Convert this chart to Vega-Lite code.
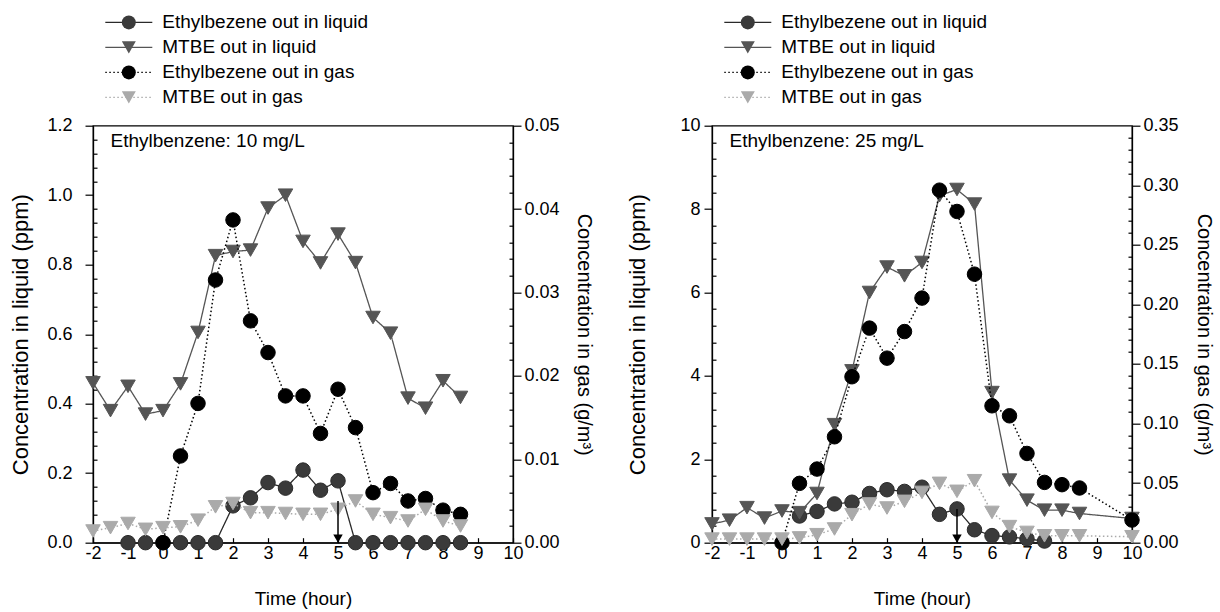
{
  "$schema": "https://vega.github.io/schema/vega-lite/v6.json",
  "background": "white",
  "padding": {"left": 9, "top": 9.7, "right": 5, "bottom": 2},
  "spacing": 32,
  "datasets": {
    "p10": [
      {"t": -1, "s": "Ethylbezene out in liquid", "c": 0}, {"t": -0.5, "s": "Ethylbezene out in liquid", "c": 0}, {"t": 0, "s": "Ethylbezene out in liquid", "c": 0}, {"t": 0.5, "s": "Ethylbezene out in liquid", "c": 0}, {"t": 1, "s": "Ethylbezene out in liquid", "c": 0}, {"t": 1.5, "s": "Ethylbezene out in liquid", "c": 0}, {"t": 2, "s": "Ethylbezene out in liquid", "c": 0.106}, {"t": 2.5, "s": "Ethylbezene out in liquid", "c": 0.129}, {"t": 3, "s": "Ethylbezene out in liquid", "c": 0.173}, {"t": 3.5, "s": "Ethylbezene out in liquid", "c": 0.157}, {"t": 4, "s": "Ethylbezene out in liquid", "c": 0.209}, {"t": 4.5, "s": "Ethylbezene out in liquid", "c": 0.151}, {"t": 5, "s": "Ethylbezene out in liquid", "c": 0.178}, {"t": 5.5, "s": "Ethylbezene out in liquid", "c": 0}, {"t": 6, "s": "Ethylbezene out in liquid", "c": 0}, {"t": 6.5, "s": "Ethylbezene out in liquid", "c": 0}, {"t": 7, "s": "Ethylbezene out in liquid", "c": 0}, {"t": 7.5, "s": "Ethylbezene out in liquid", "c": 0}, {"t": 8, "s": "Ethylbezene out in liquid", "c": 0}, {"t": 8.5, "s": "Ethylbezene out in liquid", "c": 0},
      {"t": -2, "s": "MTBE out in liquid", "c": 0.46}, {"t": -1.5, "s": "MTBE out in liquid", "c": 0.38}, {"t": -1, "s": "MTBE out in liquid", "c": 0.45}, {"t": -0.5, "s": "MTBE out in liquid", "c": 0.37}, {"t": 0, "s": "MTBE out in liquid", "c": 0.38}, {"t": 0.5, "s": "MTBE out in liquid", "c": 0.457}, {"t": 1, "s": "MTBE out in liquid", "c": 0.605}, {"t": 1.5, "s": "MTBE out in liquid", "c": 0.826}, {"t": 2, "s": "MTBE out in liquid", "c": 0.838}, {"t": 2.5, "s": "MTBE out in liquid", "c": 0.842}, {"t": 3, "s": "MTBE out in liquid", "c": 0.963}, {"t": 3.5, "s": "MTBE out in liquid", "c": 1.0}, {"t": 4, "s": "MTBE out in liquid", "c": 0.867}, {"t": 4.5, "s": "MTBE out in liquid", "c": 0.805}, {"t": 5, "s": "MTBE out in liquid", "c": 0.888}, {"t": 5.5, "s": "MTBE out in liquid", "c": 0.806}, {"t": 6, "s": "MTBE out in liquid", "c": 0.648}, {"t": 6.5, "s": "MTBE out in liquid", "c": 0.603}, {"t": 7, "s": "MTBE out in liquid", "c": 0.416}, {"t": 7.5, "s": "MTBE out in liquid", "c": 0.387}, {"t": 8, "s": "MTBE out in liquid", "c": 0.466}, {"t": 8.5, "s": "MTBE out in liquid", "c": 0.418},
      {"t": 0, "s": "Ethylbezene out in gas", "c": 0}, {"t": 0.5, "s": "Ethylbezene out in gas", "c": 0.0104}, {"t": 1, "s": "Ethylbezene out in gas", "c": 0.0167}, {"t": 1.5, "s": "Ethylbezene out in gas", "c": 0.0315}, {"t": 2, "s": "Ethylbezene out in gas", "c": 0.0387}, {"t": 2.5, "s": "Ethylbezene out in gas", "c": 0.0266}, {"t": 3, "s": "Ethylbezene out in gas", "c": 0.0228}, {"t": 3.5, "s": "Ethylbezene out in gas", "c": 0.0176}, {"t": 4, "s": "Ethylbezene out in gas", "c": 0.0176}, {"t": 4.5, "s": "Ethylbezene out in gas", "c": 0.0131}, {"t": 5, "s": "Ethylbezene out in gas", "c": 0.0184}, {"t": 5.5, "s": "Ethylbezene out in gas", "c": 0.0138}, {"t": 6, "s": "Ethylbezene out in gas", "c": 0.006}, {"t": 6.5, "s": "Ethylbezene out in gas", "c": 0.0071}, {"t": 7, "s": "Ethylbezene out in gas", "c": 0.005}, {"t": 7.5, "s": "Ethylbezene out in gas", "c": 0.0053}, {"t": 8, "s": "Ethylbezene out in gas", "c": 0.0039}, {"t": 8.5, "s": "Ethylbezene out in gas", "c": 0.0034},
      {"t": -2, "s": "MTBE out in gas", "c": 0.0014}, {"t": -1.5, "s": "MTBE out in gas", "c": 0.0018}, {"t": -1, "s": "MTBE out in gas", "c": 0.0023}, {"t": -0.5, "s": "MTBE out in gas", "c": 0.0016}, {"t": 0, "s": "MTBE out in gas", "c": 0.0018}, {"t": 0.5, "s": "MTBE out in gas", "c": 0.0019}, {"t": 1, "s": "MTBE out in gas", "c": 0.0027}, {"t": 1.5, "s": "MTBE out in gas", "c": 0.0043}, {"t": 2, "s": "MTBE out in gas", "c": 0.0047}, {"t": 2.5, "s": "MTBE out in gas", "c": 0.0036}, {"t": 3, "s": "MTBE out in gas", "c": 0.0036}, {"t": 3.5, "s": "MTBE out in gas", "c": 0.0035}, {"t": 4, "s": "MTBE out in gas", "c": 0.0034}, {"t": 4.5, "s": "MTBE out in gas", "c": 0.0034}, {"t": 5, "s": "MTBE out in gas", "c": 0.004}, {"t": 5.5, "s": "MTBE out in gas", "c": 0.005}, {"t": 6, "s": "MTBE out in gas", "c": 0.0034}, {"t": 6.5, "s": "MTBE out in gas", "c": 0.003}, {"t": 7, "s": "MTBE out in gas", "c": 0.0026}, {"t": 7.5, "s": "MTBE out in gas", "c": 0.004}, {"t": 8, "s": "MTBE out in gas", "c": 0.0026}, {"t": 8.5, "s": "MTBE out in gas", "c": 0.002}
    ],
    "p25": [
      {"t": 0.5, "s": "Ethylbezene out in liquid", "c": 0.64}, {"t": 1, "s": "Ethylbezene out in liquid", "c": 0.75}, {"t": 1.5, "s": "Ethylbezene out in liquid", "c": 0.93}, {"t": 2, "s": "Ethylbezene out in liquid", "c": 0.97}, {"t": 2.5, "s": "Ethylbezene out in liquid", "c": 1.18}, {"t": 3, "s": "Ethylbezene out in liquid", "c": 1.27}, {"t": 3.5, "s": "Ethylbezene out in liquid", "c": 1.23}, {"t": 4, "s": "Ethylbezene out in liquid", "c": 1.33}, {"t": 4.5, "s": "Ethylbezene out in liquid", "c": 0.68}, {"t": 5, "s": "Ethylbezene out in liquid", "c": 0.81}, {"t": 5.5, "s": "Ethylbezene out in liquid", "c": 0.31}, {"t": 6, "s": "Ethylbezene out in liquid", "c": 0.17}, {"t": 6.5, "s": "Ethylbezene out in liquid", "c": 0.14}, {"t": 7, "s": "Ethylbezene out in liquid", "c": 0.09}, {"t": 7.5, "s": "Ethylbezene out in liquid", "c": 0.04},
      {"t": -2, "s": "MTBE out in liquid", "c": 0.45}, {"t": -1.5, "s": "MTBE out in liquid", "c": 0.54}, {"t": -1, "s": "MTBE out in liquid", "c": 0.84}, {"t": -0.5, "s": "MTBE out in liquid", "c": 0.59}, {"t": 0, "s": "MTBE out in liquid", "c": 0.76}, {"t": 0.5, "s": "MTBE out in liquid", "c": 0.72}, {"t": 1, "s": "MTBE out in liquid", "c": 1.18}, {"t": 1.5, "s": "MTBE out in liquid", "c": 2.83}, {"t": 2, "s": "MTBE out in liquid", "c": 4.12}, {"t": 2.5, "s": "MTBE out in liquid", "c": 6.0}, {"t": 3, "s": "MTBE out in liquid", "c": 6.61}, {"t": 3.5, "s": "MTBE out in liquid", "c": 6.4}, {"t": 4, "s": "MTBE out in liquid", "c": 6.72}, {"t": 4.5, "s": "MTBE out in liquid", "c": 8.32}, {"t": 5, "s": "MTBE out in liquid", "c": 8.47}, {"t": 5.5, "s": "MTBE out in liquid", "c": 8.12}, {"t": 6, "s": "MTBE out in liquid", "c": 3.6}, {"t": 6.5, "s": "MTBE out in liquid", "c": 1.5}, {"t": 7, "s": "MTBE out in liquid", "c": 1.02}, {"t": 7.5, "s": "MTBE out in liquid", "c": 0.78}, {"t": 8, "s": "MTBE out in liquid", "c": 0.78}, {"t": 8.5, "s": "MTBE out in liquid", "c": 0.7}, {"t": 10, "s": "MTBE out in liquid", "c": 0.58},
      {"t": 0, "s": "Ethylbezene out in gas", "c": 0}, {"t": 0.5, "s": "Ethylbezene out in gas", "c": 0.0498}, {"t": 1, "s": "Ethylbezene out in gas", "c": 0.0618}, {"t": 1.5, "s": "Ethylbezene out in gas", "c": 0.0889}, {"t": 2, "s": "Ethylbezene out in gas", "c": 0.1393}, {"t": 2.5, "s": "Ethylbezene out in gas", "c": 0.1801}, {"t": 3, "s": "Ethylbezene out in gas", "c": 0.1549}, {"t": 3.5, "s": "Ethylbezene out in gas", "c": 0.1772}, {"t": 4, "s": "Ethylbezene out in gas", "c": 0.2053}, {"t": 4.5, "s": "Ethylbezene out in gas", "c": 0.2959}, {"t": 5, "s": "Ethylbezene out in gas", "c": 0.278}, {"t": 5.5, "s": "Ethylbezene out in gas", "c": 0.2254}, {"t": 6, "s": "Ethylbezene out in gas", "c": 0.1149}, {"t": 6.5, "s": "Ethylbezene out in gas", "c": 0.1065}, {"t": 7, "s": "Ethylbezene out in gas", "c": 0.0749}, {"t": 7.5, "s": "Ethylbezene out in gas", "c": 0.0506}, {"t": 8, "s": "Ethylbezene out in gas", "c": 0.0487}, {"t": 8.5, "s": "Ethylbezene out in gas", "c": 0.0459}, {"t": 10, "s": "Ethylbezene out in gas", "c": 0.019},
      {"t": -2, "s": "MTBE out in gas", "c": 0.003}, {"t": -1.5, "s": "MTBE out in gas", "c": 0.003}, {"t": -1, "s": "MTBE out in gas", "c": 0.003}, {"t": -0.5, "s": "MTBE out in gas", "c": 0.003}, {"t": 0, "s": "MTBE out in gas", "c": 0.003}, {"t": 0.5, "s": "MTBE out in gas", "c": 0.004}, {"t": 1, "s": "MTBE out in gas", "c": 0.0067}, {"t": 1.5, "s": "MTBE out in gas", "c": 0.0115}, {"t": 2, "s": "MTBE out in gas", "c": 0.0235}, {"t": 2.5, "s": "MTBE out in gas", "c": 0.0325}, {"t": 3, "s": "MTBE out in gas", "c": 0.0291}, {"t": 3.5, "s": "MTBE out in gas", "c": 0.0347}, {"t": 4, "s": "MTBE out in gas", "c": 0.0422}, {"t": 4.5, "s": "MTBE out in gas", "c": 0.0498}, {"t": 5, "s": "MTBE out in gas", "c": 0.0431}, {"t": 5.5, "s": "MTBE out in gas", "c": 0.052}, {"t": 6, "s": "MTBE out in gas", "c": 0.0254}, {"t": 6.5, "s": "MTBE out in gas", "c": 0.0135}, {"t": 7, "s": "MTBE out in gas", "c": 0.0086}, {"t": 7.5, "s": "MTBE out in gas", "c": 0.0058}, {"t": 8, "s": "MTBE out in gas", "c": 0.0058}, {"t": 8.5, "s": "MTBE out in gas", "c": 0.0058}, {"t": 10, "s": "MTBE out in gas", "c": 0.005}
    ],
    "a10": [{"t": 5, "top": 0.12, "tip": 0}],
    "a25": [{"t": 5, "top": 0.81, "tip": 0}]
  },
  "hconcat": [
    {
      "width": 420, "height": 417,
      "data": {"name": "p10"},
      "encoding": {
        "x": {"field": "t", "type": "quantitative", "scale": {"domain": [-2, 10], "nice": false, "zero": false},
          "axis": {"title": "Time (hour)", "values": [-2, -1, 0, 1, 2, 3, 4, 5, 6, 7, 8, 9, 10], "labelExpr": "'' + datum.value", "tickSize": -5, "labelPadding": 7, "titlePadding": 27}}
      },
      "layer": [
        {
          "transform": [{"filter": {"field": "s", "oneOf": ["Ethylbezene out in liquid", "MTBE out in liquid"]}}],
          "encoding": {
            "y": {"field": "c", "type": "quantitative", "scale": {"domain": [0, 1.2], "nice": false},
              "axis": {"orient": "left", "title": "Concentration in liquid (ppm)", "titleFontSize": 22, "values": [0, 0.04, 0.08, 0.12, 0.16, 0.2, 0.24, 0.28, 0.32, 0.36, 0.4, 0.44, 0.48, 0.52, 0.56, 0.6, 0.64, 0.68, 0.72, 0.76, 0.8, 0.84, 0.88, 0.92, 0.96, 1.0, 1.04, 1.08, 1.12, 1.16, 1.2],
                "labelExpr": "abs(datum.value*5 - round(datum.value*5)) < 0.001 ? format(datum.value, '.1f') : ''",
                "tickSize": {"condition": {"test": "abs(datum.value*5 - round(datum.value*5)) < 0.001", "value": 8}, "value": -4},
                "labelPadding": 13, "titlePadding": 14}}
          },
          "layer": [
            {"mark": {"type": "line", "strokeWidth": 1.3},
              "encoding": {
                "stroke": {"field": "s", "type": "nominal", "scale": {"domain": ["Ethylbezene out in liquid", "MTBE out in liquid", "Ethylbezene out in gas", "MTBE out in gas"], "range": ["#2a2a2a", "#555555", "#000000", "#aaaaaa"]},
                  "legend": {"orient": "none", "legendX": 11.3, "legendY": -115.35, "title": null, "symbolType": "stroke", "symbolSize": 2209, "symbolStrokeWidth": 1.3, "labelOffset": 9, "rowPadding": 0, "clipHeight": 24.1}},
                "strokeDash": {"field": "s", "type": "nominal", "scale": {"domain": ["Ethylbezene out in liquid", "MTBE out in liquid", "Ethylbezene out in gas", "MTBE out in gas"], "range": [[1, 0], [1, 0], [1.5, 2.5], [1.5, 2.5]]},
                  "legend": {"orient": "none", "legendX": 11.3, "legendY": -115.35, "title": null, "symbolType": "stroke", "symbolSize": 2209, "symbolStrokeWidth": 1.3, "labelOffset": 9, "rowPadding": 0, "clipHeight": 24.1}}
              }},
            {"mark": {"type": "point", "filled": true, "size": 210, "strokeWidth": 1, "opacity": 1},
              "encoding": {
                "fill": {"field": "s", "type": "nominal", "scale": {"domain": ["MTBE out in liquid", "Ethylbezene out in liquid", "MTBE out in gas", "Ethylbezene out in gas"], "range": ["#555555", "#3a3a3a", "#aaaaaa", "#000000"]},
                  "legend": {"orient": "none", "legendX": 26.3, "legendY": -115.35, "title": null, "values": ["Ethylbezene out in liquid", "MTBE out in liquid", "Ethylbezene out in gas", "MTBE out in gas"], "symbolSize": 196, "symbolStrokeWidth": 0, "labelExpr": "''", "rowPadding": 0, "clipHeight": 24.1}},
                "shape": {"field": "s", "type": "nominal", "scale": {"domain": ["MTBE out in liquid", "Ethylbezene out in liquid", "MTBE out in gas", "Ethylbezene out in gas"], "range": ["triangle-down", "circle", "triangle-down", "circle"]},
                  "legend": {"orient": "none", "legendX": 26.3, "legendY": -115.35, "title": null, "values": ["Ethylbezene out in liquid", "MTBE out in liquid", "Ethylbezene out in gas", "MTBE out in gas"], "symbolSize": 196, "symbolStrokeWidth": 0, "labelExpr": "''", "rowPadding": 0, "clipHeight": 24.1}},
                "stroke": {"field": "s", "type": "nominal"}
              }}
          ]
        },
        {
          "transform": [{"filter": {"field": "s", "oneOf": ["Ethylbezene out in gas", "MTBE out in gas"]}}],
          "encoding": {
            "y": {"field": "c", "type": "quantitative", "scale": {"domain": [0, 0.05], "nice": false},
              "axis": {"orient": "right", "title": "Concentration in gas (g/m³)", "values": [0, 0.002, 0.004, 0.006, 0.008, 0.01, 0.012, 0.014, 0.016, 0.018, 0.02, 0.022, 0.024, 0.026, 0.028, 0.03, 0.032, 0.034, 0.036, 0.038, 0.04, 0.042, 0.044, 0.046, 0.048, 0.05],
                "labelExpr": "abs(datum.value*100 - round(datum.value*100)) < 0.001 ? format(datum.value, '.2f') : ''",
                "tickSize": {"condition": {"test": "abs(datum.value*100 - round(datum.value*100)) < 0.001", "value": 8}, "value": -4},
                "labelPadding": 3, "titlePadding": 14, "titleFontSize": 20}}
          },
          "layer": [
            {"mark": {"type": "line", "strokeWidth": 1.5},
              "encoding": {
                "stroke": {"field": "s", "type": "nominal"},
                "strokeDash": {"field": "s", "type": "nominal"}
              }},
            {"mark": {"type": "point", "filled": true, "size": 210, "strokeWidth": 1, "opacity": 1},
              "encoding": {
                "fill": {"field": "s", "type": "nominal"},
                "stroke": {"field": "s", "type": "nominal"},
                "shape": {"field": "s", "type": "nominal"}
              }}
          ]
        },
        {
          "data": {"name": "a10"},
          "layer": [
            {"mark": {"type": "rule", "color": "#000", "strokeWidth": 1.5},
              "encoding": {"y": {"field": "top", "type": "quantitative", "scale": {"domain": [0, 1.2], "nice": false}, "axis": null}, "y2": {"field": "tip"}}},
            {"mark": {"type": "point", "shape": "triangle-down", "filled": true, "color": "#000", "size": 90, "opacity": 1, "yOffset": -4},
              "encoding": {"y": {"field": "tip", "type": "quantitative", "scale": {"domain": [0, 1.2], "nice": false}, "axis": null}}},
            {"mark": {"type": "text", "text": "Ethylbenzene: 10 mg/L", "align": "left", "baseline": "middle", "fontSize": 19, "font": "Liberation Sans", "color": "#000"},
              "encoding": {
                "x": {"datum": -1.5, "type": "quantitative", "scale": {"domain": [-2, 10], "nice": false, "zero": false},
                  "axis": {"title": "Time (hour)", "values": [-2, -1, 0, 1, 2, 3, 4, 5, 6, 7, 8, 9, 10], "labelExpr": "'' + datum.value", "tickSize": -5, "labelPadding": 7, "titlePadding": 27}},
                "y": {"datum": 1.155, "type": "quantitative", "scale": {"domain": [0, 1.2], "nice": false}, "axis": null}}}
          ]
        }
      ],
      "resolve": {"scale": {"y": "independent"}}
    },
    {
      "width": 420, "height": 417,
      "data": {"name": "p25"},
      "encoding": {
        "x": {"field": "t", "type": "quantitative", "scale": {"domain": [-2, 10], "nice": false, "zero": false},
          "axis": {"title": "Time (hour)", "values": [-2, -1, 0, 1, 2, 3, 4, 5, 6, 7, 8, 9, 10], "labelExpr": "'' + datum.value", "tickSize": -5, "labelPadding": 7, "titlePadding": 27}}
      },
      "layer": [
        {
          "transform": [{"filter": {"field": "s", "oneOf": ["Ethylbezene out in liquid", "MTBE out in liquid"]}}],
          "encoding": {
            "y": {"field": "c", "type": "quantitative", "scale": {"domain": [0, 10], "nice": false},
              "axis": {"orient": "left", "title": "Concentration in liquid (ppm)", "titleFontSize": 22, "values": [0, 0.4, 0.8, 1.2, 1.6, 2, 2.4, 2.8, 3.2, 3.6, 4, 4.4, 4.8, 5.2, 5.6, 6, 6.4, 6.8, 7.2, 7.6, 8, 8.4, 8.8, 9.2, 9.6, 10],
                "labelExpr": "abs(datum.value/2 - round(datum.value/2)) < 0.001 ? format(datum.value, 'd') : ''",
                "tickSize": {"condition": {"test": "abs(datum.value/2 - round(datum.value/2)) < 0.001", "value": 8}, "value": -4},
                "labelPadding": 4, "titlePadding": 30}}
          },
          "layer": [
            {"mark": {"type": "line", "strokeWidth": 1.3},
              "encoding": {
                "stroke": {"field": "s", "type": "nominal", "scale": {"domain": ["Ethylbezene out in liquid", "MTBE out in liquid", "Ethylbezene out in gas", "MTBE out in gas"], "range": ["#2a2a2a", "#555555", "#000000", "#aaaaaa"]},
                  "legend": {"orient": "none", "legendX": 11.3, "legendY": -115.35, "title": null, "symbolType": "stroke", "symbolSize": 2209, "symbolStrokeWidth": 1.3, "labelOffset": 9, "rowPadding": 0, "clipHeight": 24.1}},
                "strokeDash": {"field": "s", "type": "nominal", "scale": {"domain": ["Ethylbezene out in liquid", "MTBE out in liquid", "Ethylbezene out in gas", "MTBE out in gas"], "range": [[1, 0], [1, 0], [1.5, 2.5], [1.5, 2.5]]},
                  "legend": {"orient": "none", "legendX": 11.3, "legendY": -115.35, "title": null, "symbolType": "stroke", "symbolSize": 2209, "symbolStrokeWidth": 1.3, "labelOffset": 9, "rowPadding": 0, "clipHeight": 24.1}}
              }},
            {"mark": {"type": "point", "filled": true, "size": 210, "strokeWidth": 1, "opacity": 1},
              "encoding": {
                "fill": {"field": "s", "type": "nominal", "scale": {"domain": ["MTBE out in liquid", "Ethylbezene out in liquid", "MTBE out in gas", "Ethylbezene out in gas"], "range": ["#555555", "#3a3a3a", "#aaaaaa", "#000000"]},
                  "legend": {"orient": "none", "legendX": 26.3, "legendY": -115.35, "title": null, "values": ["Ethylbezene out in liquid", "MTBE out in liquid", "Ethylbezene out in gas", "MTBE out in gas"], "symbolSize": 196, "symbolStrokeWidth": 0, "labelExpr": "''", "rowPadding": 0, "clipHeight": 24.1}},
                "shape": {"field": "s", "type": "nominal", "scale": {"domain": ["MTBE out in liquid", "Ethylbezene out in liquid", "MTBE out in gas", "Ethylbezene out in gas"], "range": ["triangle-down", "circle", "triangle-down", "circle"]},
                  "legend": {"orient": "none", "legendX": 26.3, "legendY": -115.35, "title": null, "values": ["Ethylbezene out in liquid", "MTBE out in liquid", "Ethylbezene out in gas", "MTBE out in gas"], "symbolSize": 196, "symbolStrokeWidth": 0, "labelExpr": "''", "rowPadding": 0, "clipHeight": 24.1}},
                "stroke": {"field": "s", "type": "nominal"}
              }}
          ]
        },
        {
          "transform": [{"filter": {"field": "s", "oneOf": ["Ethylbezene out in gas", "MTBE out in gas"]}}],
          "encoding": {
            "y": {"field": "c", "type": "quantitative", "scale": {"domain": [0, 0.35], "nice": false},
              "axis": {"orient": "right", "title": "Concentration in gas (g/m³)", "values": [0, 0.01, 0.02, 0.03, 0.04, 0.05, 0.06, 0.07, 0.08, 0.09, 0.1, 0.11, 0.12, 0.13, 0.14, 0.15, 0.16, 0.17, 0.18, 0.19, 0.2, 0.21, 0.22, 0.23, 0.24, 0.25, 0.26, 0.27, 0.28, 0.29, 0.3, 0.31, 0.32, 0.33, 0.34, 0.35],
                "labelExpr": "abs(datum.value*20 - round(datum.value*20)) < 0.001 ? format(datum.value, '.2f') : ''",
                "tickSize": {"condition": {"test": "abs(datum.value*20 - round(datum.value*20)) < 0.001", "value": 8}, "value": -4},
                "labelPadding": 3, "titlePadding": 15, "titleFontSize": 20}}
          },
          "layer": [
            {"mark": {"type": "line", "strokeWidth": 1.5},
              "encoding": {
                "stroke": {"field": "s", "type": "nominal"},
                "strokeDash": {"field": "s", "type": "nominal"}
              }},
            {"mark": {"type": "point", "filled": true, "size": 210, "strokeWidth": 1, "opacity": 1},
              "encoding": {
                "fill": {"field": "s", "type": "nominal"},
                "stroke": {"field": "s", "type": "nominal"},
                "shape": {"field": "s", "type": "nominal"}
              }}
          ]
        },
        {
          "data": {"name": "a25"},
          "layer": [
            {"mark": {"type": "rule", "color": "#000", "strokeWidth": 1.5},
              "encoding": {"y": {"field": "top", "type": "quantitative", "scale": {"domain": [0, 10], "nice": false}, "axis": null}, "y2": {"field": "tip"}}},
            {"mark": {"type": "point", "shape": "triangle-down", "filled": true, "color": "#000", "size": 90, "opacity": 1, "yOffset": -4},
              "encoding": {"y": {"field": "tip", "type": "quantitative", "scale": {"domain": [0, 10], "nice": false}, "axis": null}}},
            {"mark": {"type": "text", "text": "Ethylbenzene: 25 mg/L", "align": "left", "baseline": "middle", "fontSize": 19, "font": "Liberation Sans", "color": "#000"},
              "encoding": {
                "x": {"datum": -1.5, "type": "quantitative", "scale": {"domain": [-2, 10], "nice": false, "zero": false},
                  "axis": {"title": "Time (hour)", "values": [-2, -1, 0, 1, 2, 3, 4, 5, 6, 7, 8, 9, 10], "labelExpr": "'' + datum.value", "tickSize": -5, "labelPadding": 7, "titlePadding": 27}},
                "y": {"datum": 9.64, "type": "quantitative", "scale": {"domain": [0, 10], "nice": false}, "axis": null}}}
          ]
        }
      ],
      "resolve": {"scale": {"y": "independent"}}
    }
  ],
  "resolve": {
    "scale": {"fill": "independent", "stroke": "independent", "shape": "independent", "strokeDash": "independent"},
    "legend": {"fill": "independent", "stroke": "independent", "shape": "independent", "strokeDash": "independent"}
  },
  "config": {
    "font": "Liberation Sans",
    "view": {"stroke": "#000", "strokeWidth": 1.3},
    "axis": {"grid": false, "domainColor": "#000", "domainWidth": 1.3, "tickColor": "#000", "tickWidth": 1.2, "labelColor": "#000", "titleColor": "#000", "labelFontSize": 18, "titleFontSize": 19, "titleFontWeight": "normal", "labelOverlap": false, "labelFlush": false, "labelFont": "Liberation Sans", "titleFont": "Liberation Sans"},
    "legend": {"labelFontSize": 19, "labelFont": "Liberation Sans", "labelColor": "#000", "padding": 0, "labelLimit": 400}
  }
}
